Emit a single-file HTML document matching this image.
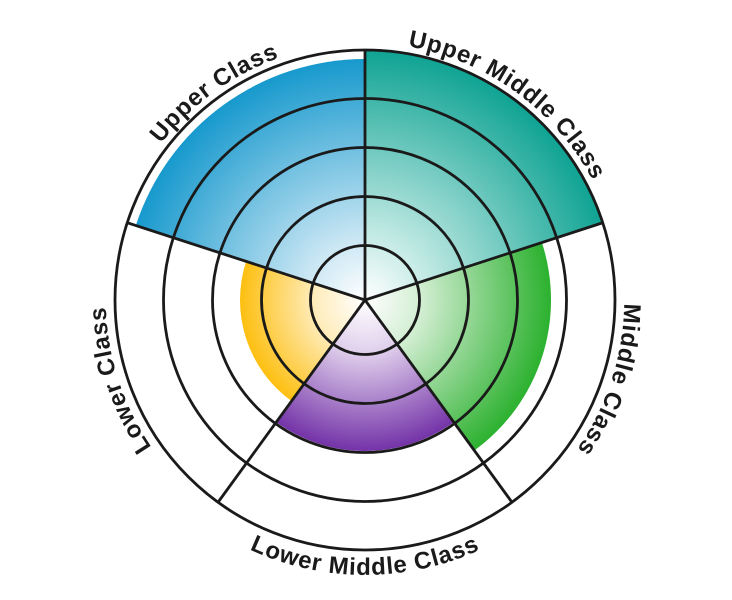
<!DOCTYPE html>
<html>
<head>
<meta charset="utf-8">
<style>
  html, body { margin:0; padding:0; background:#ffffff; }
  svg { display:block; }
  .lbl { font-family: "Liberation Sans", "DejaVu Sans", sans-serif; font-weight:bold; font-size:24px; fill:#1a1a1a; letter-spacing:0.8px; }
</style>
</head>
<body>
<svg width="732" height="600" viewBox="0 0 732 600" xmlns="http://www.w3.org/2000/svg">
  <defs>
    <radialGradient id="gTeal" gradientUnits="userSpaceOnUse" cx="365" cy="300" r="250">
      <stop offset="0" stop-color="#ffffff"/>
      <stop offset="0.25" stop-color="#c6ebe6"/>
      <stop offset="1" stop-color="#0fa393"/>
    </radialGradient>
    <radialGradient id="gBlue" gradientUnits="userSpaceOnUse" cx="365" cy="300" r="241">
      <stop offset="0" stop-color="#ffffff"/>
      <stop offset="0.25" stop-color="#cbe7f4"/>
      <stop offset="1" stop-color="#1799cd"/>
    </radialGradient>
    <radialGradient id="gGreen" gradientUnits="userSpaceOnUse" cx="365" cy="300" r="186">
      <stop offset="0" stop-color="#ffffff"/>
      <stop offset="0.3" stop-color="#d3eed3"/>
      <stop offset="1" stop-color="#2cb12f"/>
    </radialGradient>
    <radialGradient id="gPurple" gradientUnits="userSpaceOnUse" cx="365" cy="300" r="151">
      <stop offset="0" stop-color="#ffffff"/>
      <stop offset="0.35" stop-color="#e0d0ec"/>
      <stop offset="1" stop-color="#7433a8"/>
    </radialGradient>
    <radialGradient id="gYellow" gradientUnits="userSpaceOnUse" cx="365" cy="300" r="125">
      <stop offset="0" stop-color="#ffffff"/>
      <stop offset="0.4" stop-color="#ffedbd"/>
      <stop offset="1" stop-color="#fdbf10"/>
    </radialGradient>

    <path id="pUC" d="M153.85 453.36 A261 261 0 0 1 576.15 146.64"/>
    <path id="pUMC" d="M153.85 146.64 A261 261 0 0 1 576.15 453.36"/>
    <path id="pMC" d="M445.65 51.78 A261 261 0 0 1 284.35 548.22"/>
    <path id="pLC" d="M445.65 548.22 A261 261 0 0 1 284.35 51.78"/>
    <path id="pLMC" d="M90 300 A275 275 0 0 0 640 300"/>
  </defs>

  <!-- sectors -->
  <path d="M365 300 L365 50 A250 250 0 0 1 602.77 222.75 Z" fill="url(#gTeal)"/>
  <path d="M365 300 L541.90 242.52 A186 186 0 0 1 474.33 450.48 Z" fill="url(#gGreen)"/>
  <path d="M365 300 L453.76 422.16 A151 151 0 0 1 276.24 422.16 Z" fill="url(#gPurple)"/>
  <path d="M365 300 L291.53 401.13 A125 125 0 0 1 246.12 261.37 Z" fill="url(#gYellow)"/>
  <path d="M365 300 L135.79 225.53 A241 241 0 0 1 365 59 Z" fill="url(#gBlue)"/>

  <!-- rings -->
  <g fill="none" stroke="#1a1a1a" stroke-width="2.8">
    <circle cx="365" cy="300" r="54.5"/>
    <circle cx="365" cy="300" r="103.5"/>
    <circle cx="365" cy="300" r="152.5"/>
    <circle cx="365" cy="300" r="201.5"/>
    <circle cx="365" cy="300" r="250"/>
    <!-- spokes -->
    <line x1="365" y1="300" x2="365" y2="50"/>
    <line x1="365" y1="300" x2="602.77" y2="222.75"/>
    <line x1="365" y1="300" x2="511.95" y2="502.25"/>
    <line x1="365" y1="300" x2="218.05" y2="502.25"/>
    <line x1="365" y1="300" x2="127.23" y2="222.75"/>
  </g>

  <!-- labels -->
  <text class="lbl"><textPath href="#pUC" startOffset="50%" text-anchor="middle">Upper Class</textPath></text>
  <text class="lbl"><textPath href="#pUMC" startOffset="50%" text-anchor="middle">Upper Middle Class</textPath></text>
  <text class="lbl"><textPath href="#pMC" startOffset="50%" text-anchor="middle">Middle Class</textPath></text>
  <text class="lbl"><textPath href="#pLC" startOffset="50%" text-anchor="middle">Lower Class</textPath></text>
  <text class="lbl"><textPath href="#pLMC" startOffset="50%" text-anchor="middle">Lower Middle Class</textPath></text>
</svg>
</body>
</html>
